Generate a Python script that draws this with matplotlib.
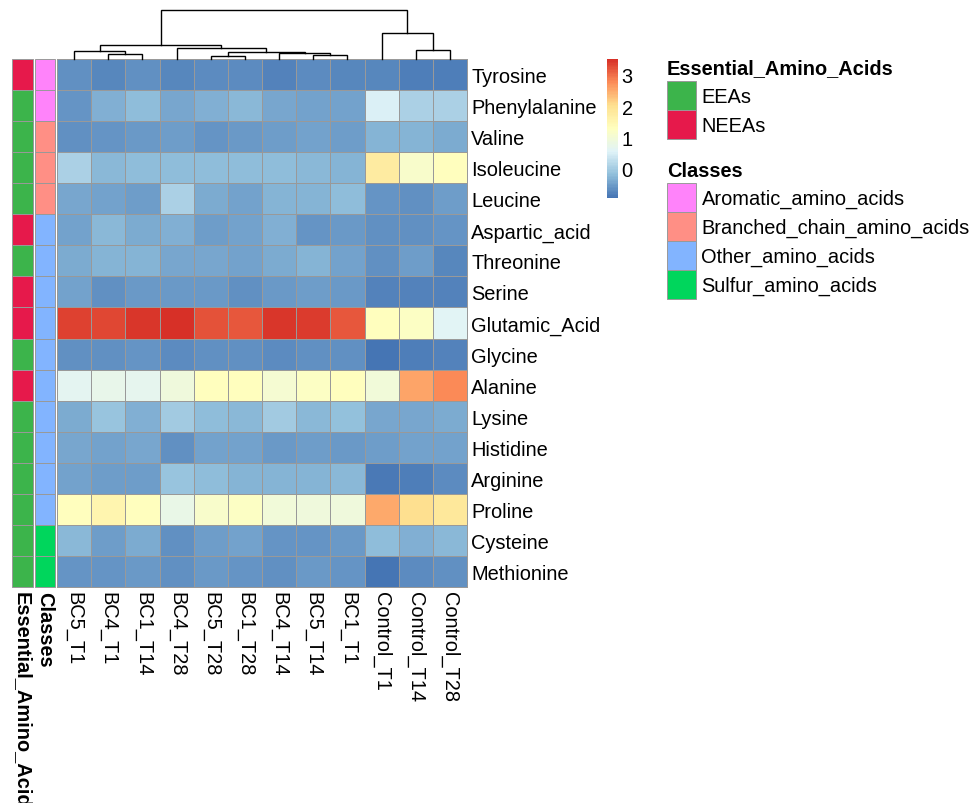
import matplotlib.pyplot as plt
import numpy as np
from matplotlib.colors import LinearSegmentedColormap
from matplotlib.patches import Rectangle

plt.rcParams['font.family'] = ['Liberation Sans', 'DejaVu Sans']

amino_acids = ["Tyrosine", "Phenylalanine", "Valine", "Isoleucine", "Leucine",
               "Aspartic_acid", "Threonine", "Serine", "Glutamic_Acid", "Glycine",
               "Alanine", "Lysine", "Histidine", "Arginine", "Proline",
               "Cysteine", "Methionine"]

samples = ["BC5_T1", "BC4_T1", "BC1_T14", "BC4_T28", "BC5_T28", "BC1_T28",
           "BC4_T14", "BC5_T14", "BC1_T1", "Control_T1", "Control_T14", "Control_T28"]

# scaled concentrations, rows = amino acids, columns = samples (clustered order)
values = np.array([
    [-0.63, -0.73, -0.63, -0.73, -0.70, -0.68, -0.77, -0.70, -0.72, -0.72, -0.80, -0.80],
    [-0.58, -0.34, -0.19, -0.41, -0.34, -0.26, -0.43, -0.45, -0.47,  0.50,  0.05,  0.05],
    [-0.63, -0.60, -0.57, -0.52, -0.58, -0.55, -0.50, -0.47, -0.50, -0.29, -0.30, -0.38],
    [ 0.05, -0.24, -0.20, -0.22, -0.22, -0.22, -0.22, -0.25, -0.28,  1.75,  1.15,  1.30],
    [-0.42, -0.48, -0.50,  0.05, -0.38, -0.45, -0.30, -0.28, -0.22, -0.60, -0.63, -0.50],
    [-0.48, -0.25, -0.38, -0.35, -0.50, -0.45, -0.35, -0.58, -0.55, -0.62, -0.63, -0.60],
    [-0.38, -0.28, -0.28, -0.42, -0.42, -0.45, -0.38, -0.28, -0.45, -0.65, -0.50, -0.75],
    [-0.48, -0.62, -0.55, -0.55, -0.55, -0.62, -0.55, -0.50, -0.55, -0.78, -0.78, -0.77],
    [ 3.35,  3.30,  3.45,  3.50,  3.20,  3.15,  3.45,  3.40,  3.15,  1.30,  1.20,  0.62],
    [-0.62, -0.62, -0.60, -0.68, -0.65, -0.65, -0.68, -0.65, -0.63, -0.93, -0.82, -0.78],
    [ 0.65,  0.72,  0.68,  0.90,  1.30,  1.30,  1.05,  1.20,  1.30,  0.95,  2.55,  2.78],
    [-0.38, -0.12, -0.33,  0.00, -0.20, -0.25,  0.00, -0.25, -0.15, -0.42, -0.40, -0.38],
    [-0.42, -0.48, -0.40, -0.62, -0.45, -0.45, -0.55, -0.50, -0.55, -0.50, -0.48, -0.45],
    [-0.45, -0.52, -0.52, -0.12, -0.22, -0.30, -0.28, -0.30, -0.25, -0.85, -0.80, -0.70],
    [ 1.30,  1.55,  1.30,  0.78,  1.12,  1.22,  0.95,  0.90,  0.92,  2.52,  2.00,  1.85],
    [-0.25, -0.50, -0.38, -0.65, -0.50, -0.48, -0.60, -0.58, -0.55, -0.22, -0.35, -0.25],
    [-0.58, -0.58, -0.55, -0.62, -0.55, -0.58, -0.62, -0.55, -0.58, -0.90, -0.68, -0.63],
])

essential = ["NEEAs", "EEAs", "EEAs", "EEAs", "EEAs", "NEEAs", "EEAs", "NEEAs",
             "NEEAs", "EEAs", "NEEAs", "EEAs", "EEAs", "EEAs", "EEAs", "EEAs", "EEAs"]
classes = ["Aromatic_amino_acids", "Aromatic_amino_acids",
           "Branched_chain_amino_acids", "Branched_chain_amino_acids", "Branched_chain_amino_acids",
           "Other_amino_acids", "Other_amino_acids", "Other_amino_acids", "Other_amino_acids",
           "Other_amino_acids", "Other_amino_acids", "Other_amino_acids", "Other_amino_acids",
           "Other_amino_acids", "Other_amino_acids",
           "Sulfur_amino_acids", "Sulfur_amino_acids"]

essential_colors = {"EEAs": "#3CB44B", "NEEAs": "#E6194B"}
class_colors = {"Aromatic_amino_acids": "#FF83FA",
                "Branched_chain_amino_acids": "#FF8F85",
                "Other_amino_acids": "#82B4FF",
                "Sulfur_amino_acids": "#00D65C"}

# column dendrogram merges: (left node, right node, height); new nodes numbered from 12
col_merges = [(1, 2, 4.7), (0, 12, 7.7), (4, 5, 2.7), (7, 8, 4.3), (6, 15, 5.7),
              (14, 16, 7.3), (3, 17, 10.7), (13, 18, 14.0), (10, 11, 9.3),
              (9, 20, 26.0), (19, 21, 48.7)]

W, H = 973, 804
fig = plt.figure(figsize=(W / 100, H / 100), dpi=100)
border = "#999999"
fs = 14.4


def px_axes(x0, y0, x1, y1):
    return fig.add_axes([x0 / W, 1 - y1 / H, (x1 - x0) / W, (y1 - y0) / H])


n_rows, n_cols = values.shape

# heatmap
cmap = LinearSegmentedColormap.from_list(
    "rdylbu_r", ["#4575B4", "#91BFDB", "#E0F3F8", "#FFFFBF", "#FEE090", "#FC8D59", "#D73027"], N=100)
ax = px_axes(57, 60, 467, 588)
mesh = ax.pcolormesh(values, cmap=cmap, vmin=values.min(), vmax=values.max(),
                     edgecolors=border, linewidth=0.7)
mesh.set_clip_on(False)
ax.set_xlim(0, n_cols)
ax.set_ylim(n_rows, 0)
ax.set_xticks(np.arange(n_cols) + 0.5, samples, rotation=270, fontsize=fs)
ax.set_yticks(np.arange(n_rows) + 0.5, amino_acids, fontsize=fs)
ax.yaxis.tick_right()
ax.tick_params(length=0, pad=3)
for s in ax.spines.values():
    s.set_visible(False)

# row annotations
for (x0, x1), labels, palette, title in [((12, 32.5), essential, essential_colors, "Essential_Amino_Acids"),
                                         ((34.5, 54.5), classes, class_colors, "Classes")]:
    a = px_axes(x0, 60, x1, 588)
    for i, lab in enumerate(labels):
        a.add_patch(Rectangle((0, i), 1, 1, facecolor=palette[lab], edgecolor=border,
                              lw=0.7, clip_on=False))
    a.set_xlim(0, 1)
    a.set_ylim(n_rows, 0)
    a.axis("off")
    a.annotate(title, (0.5, n_rows), xytext=(0, -3), textcoords="offset points",
               rotation=270, ha="center", va="top", fontsize=fs, fontweight="bold",
               annotation_clip=False)

# column dendrogram
dax = px_axes(57, 11.3, 467, 60)
node_x = {i: i + 0.5 for i in range(n_cols)}
node_h = {i: 0.0 for i in range(n_cols)}
for k, (l, r, h) in enumerate(col_merges):
    dax.plot([node_x[l], node_x[l], node_x[r], node_x[r]],
             [node_h[l], h, h, node_h[r]], color="black", lw=1.0,
             solid_joinstyle="miter", clip_on=False)
    node_x[n_cols + k] = (node_x[l] + node_x[r]) / 2
    node_h[n_cols + k] = h
dax.set_xlim(0, n_cols)
dax.set_ylim(0, max(m[2] for m in col_merges))
dax.axis("off")

# colour scale
cax = px_axes(607, 60, 617.5, 199)
cb = fig.colorbar(mesh, cax=cax, ticks=[0, 1, 2, 3])
cb.outline.set_visible(False)
cax.tick_params(length=0, labelsize=fs, pad=3)

# annotation legends
lax = fig.add_axes([0, 0, 1, 1])
lax.set_xlim(0, W)
lax.set_ylim(H, 0)
lax.axis("off")
legends = [("Essential_Amino_Acids", essential_colors, 74.5),
           ("Classes", class_colors, 176.7)]
box = 29
for title, palette, y_title in legends:
    lax.text(667, y_title, title, fontsize=fs, fontweight="bold", va="baseline", ha="left")
    y = y_title + 7.2
    for name, col in palette.items():
        lax.add_patch(Rectangle((666.5, y), box, box, facecolor=col, edgecolor=border, lw=0.7))
        lax.text(701.5, y + box / 2 + 1, name, fontsize=fs, va="center", ha="left")
        y += box

fig.savefig("out.png", dpi=100)
